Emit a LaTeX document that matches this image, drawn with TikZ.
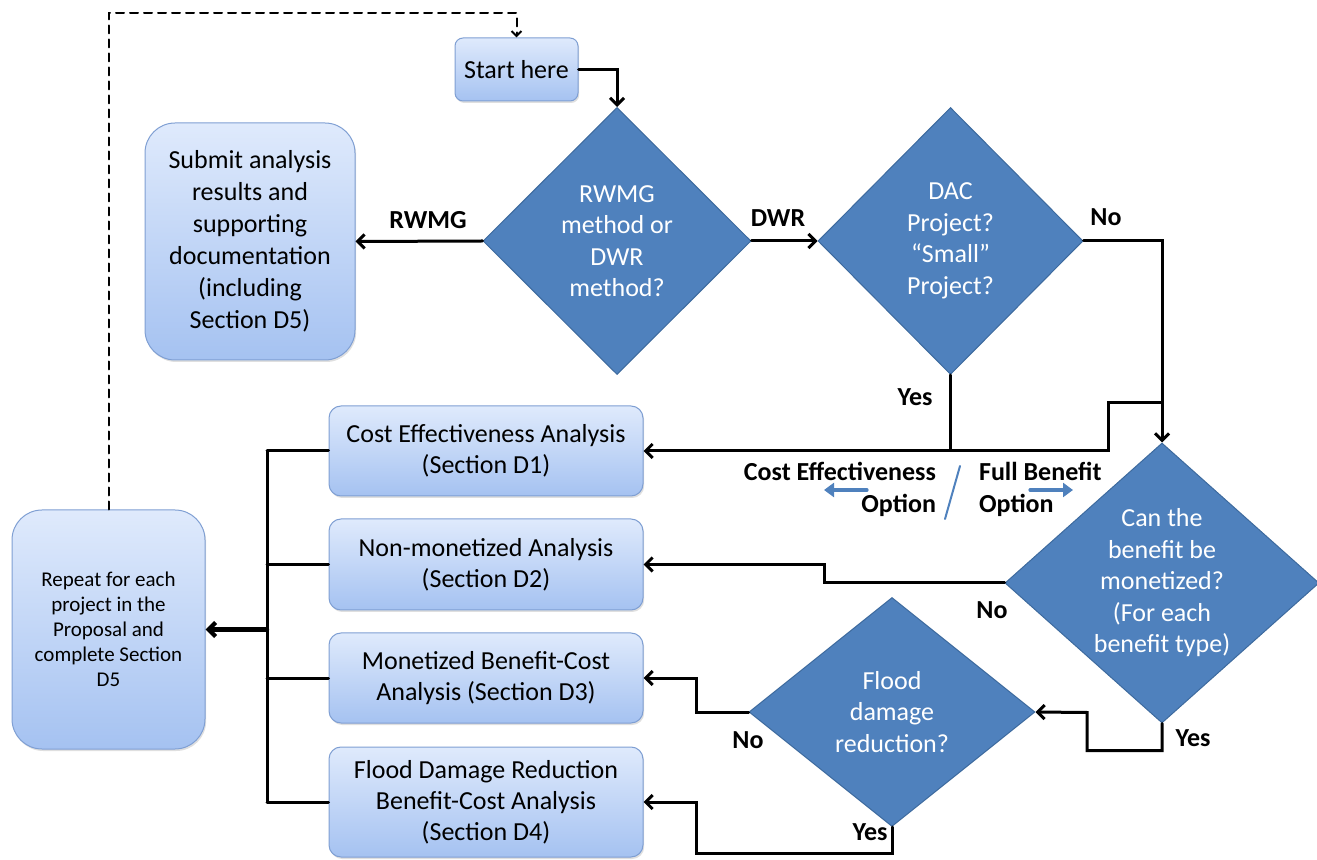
\documentclass[tikz,border=0pt]{standalone}
\usepackage{fontspec}
\setmainfont{Carlito}
\usetikzlibrary{arrows.meta,shapes.geometric,shadows,calc}
\definecolor{boxtop}{HTML}{DFEAFC}
\definecolor{boxbot}{HTML}{A5C2F1}
\definecolor{boxline}{HTML}{7F9FD3}
\definecolor{dmdfill}{HTML}{4F81BD}
\definecolor{dmdline}{HTML}{3D6A9E}

\begin{document}
\begin{tikzpicture}[line cap=round,line join=miter,x=0.5pt,y=-0.5pt,
  >={Straight Barb[length=3.5pt,width=7pt]},
  box/.style={draw=boxline,line width=0.5pt,top color=boxtop,bottom color=boxbot,
    rounded corners=6pt,align=center,inner sep=2pt,font=\fontsize{13}{15.5}\selectfont,
    drop shadow={shadow xshift=0.6pt,shadow yshift=-1pt,opacity=0.25}},
  dmd/.style={diamond,draw=dmdline,line width=0.5pt,fill=dmdfill,text=white,
    align=center,inner sep=0pt,font=\fontsize{13}{15.75}\selectfont},
  flow/.style={line width=1.5pt},
  flowto/.style={flow,->},
  lbl/.style={font=\bfseries\fontsize{13}{16}\selectfont},
  optarrow/.style={draw=dmdfill,line width=1.6pt,-{Triangle[length=5pt,width=7pt]}}]
\useasboundingbox (0,0) rectangle (1317,860);

% boxes
\node[box,minimum width=61.5pt,minimum height=31.5pt,rounded corners=4pt] (start) at (516.5,69.5) {Start here};
\node[box,minimum width=105pt,minimum height=118.5pt,rounded corners=15pt,font=\fontsize{13}{16}\selectfont] (submit) at (250,241.5) {Submit analysis\\results and\\supporting\\documentation\\(including\\Section D5)};
\node[box,minimum width=157pt,minimum height=45pt] (ce) at (486,451) {Cost Effectiveness Analysis\\(Section D1)};
\node[box,minimum width=157pt,minimum height=45.5pt] (nd) at (486,564.5) {Non-monetized Analysis\\(Section D2)};
\node[box,minimum width=157pt,minimum height=45pt] (mb) at (486,678) {Monetized Benefit-Cost\\Analysis (Section D3)};
\node[box,minimum width=157pt,minimum height=55pt] (fdr) at (486,802) {Flood Damage Reduction\\Benefit-Cost Analysis\\(Section D4)};
\node[box,minimum width=96.5pt,minimum height=119.5pt,rounded corners=15pt,font=\fontsize{10.5}{12.5}\selectfont] (repeat) at (108.5,629.5) {Repeat for each\\project in the\\Proposal and\\complete Section\\D5};

% decisions
\node[dmd,minimum width=134pt,minimum height=133.5pt] (d1) at (617,241) {RWMG\\method or\\DWR\\method?};
\node[dmd,minimum width=132.5pt,minimum height=133.5pt] (d2) at (950.5,241) {DAC\\Project?\\“Small”\\Project?};
\node[dmd,shape aspect=1.12,minimum width=157pt,minimum height=140pt] (d3) at (1162,583) {Can the\\benefit be\\monetized?\\(For each\\benefit type)};
\node[dmd,shape aspect=1.25,minimum width=143pt,minimum height=114.5pt] (d4) at (892,712) {Flood\\damage\\reduction?};

% labels
\node[lbl] (lrwmg) at (428,220) {RWMG};
\node[lbl] (ldwr) at (778,218) {DWR};
\node[lbl] (lno2) at (1106,217) {No};
\node[lbl] (lyes2) at (915,397) {Yes};
\node[lbl] (lno3) at (992,610) {No};
\node[lbl] (lyes3) at (1193,738) {Yes};
\node[lbl] (lno4) at (748,740) {No};
\node[lbl] (lyes4) at (870,832) {Yes};
\node[lbl,anchor=east,align=right] (ceopt) at (943,489) {Cost Effectiveness\\Option};
\node[lbl,anchor=west,align=left] (fbopt) at (972,489) {Full Benefit\\Option};
\draw[draw=dmdfill,line width=1pt] (960,466) -- (945,519);
\draw[optarrow] (867,490) -- (824,490);
\draw[optarrow] (1030,490) -- (1073,490);

% connectors
\coordinate (looptop) at (0,13);
\coordinate (stepa) at (0,403);
\coordinate (stepb) at (1108,451);
\coordinate (bus) at (267,629.5);
\coordinate (nobend) at ($(d4.west)+(-52,0)$);
\draw[dash pattern=on 4pt off 3pt,line width=1pt,->,>={Straight Barb[length=2.5pt,width=5pt]}] (repeat.north) -- (repeat.north |- looptop) -| (start.north);
\draw[flowto] (start.east) -| (d1.north);
\draw[flowto] (d1.west) -- (submit.east);
\draw[flowto] (d1.east) -- (d2.west);
\draw[flowto] (d2.east) -| (d3.north);
\draw[flowto] (d2.south) |- (ce.east);
\draw[flow] (d3.north |- stepa) -| (stepb) -- (d2.south |- ce.east);
\draw[flowto] (d3.west) -- ++(-180,0) |- (nd.east);
\draw[flowto] (d3.south) -- ++(0,27) -| ++(-75,-38) -- (d4.east);
\draw[flowto] (d4.west) -- (nobend) |- (mb.east);
\draw[flowto] (d4.south) -- ++(0,26) -| (nobend |- fdr.east) -- (fdr.east);
\foreach \b in {ce,nd,mb,fdr}
  \draw[flow] (\b.west) -- (\b.west -| bus);
\draw[flow] (ce.west -| bus) -- (fdr.west -| bus);
\draw[flow,line width=2.2pt,->] (bus) -- (repeat.east);
\end{tikzpicture}
\end{document}
